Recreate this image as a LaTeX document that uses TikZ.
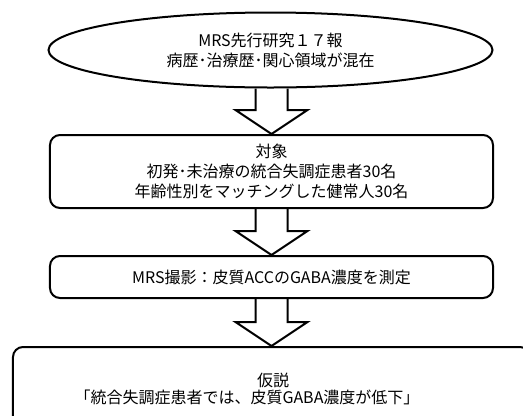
\documentclass[tikz,border=0pt]{standalone}
\usepackage{fontspec}
\setmainfont{Noto Sans CJK JP}
\usetikzlibrary{shapes.geometric,calc}
\newcommand\fatarrowdraw[2]{%
  \draw[fatarrow] let \p1=(#1.south), \p2=(#2.north) in
    (\x2-16bp,\y1) -- (\x2-16bp,\y2+24bp) -- (\x2-36bp,\y2+24bp) -- (\x2,\y2)
    -- (\x2+36bp,\y2+24bp) -- (\x2+16bp,\y2+24bp) -- (\x2+16bp,\y1);}
\begin{document}
\begin{tikzpicture}[x=1bp,y=-1bp,
  every node/.style={font=\fontsize{16bp}{20bp}\selectfont},
  boxstyle/.style={draw,line width=2bp,rounded corners=10bp,align=center,inner sep=0pt},
  ellstyle/.style={ellipse,draw,line width=2bp,align=center,inner sep=0pt},
  fatarrow/.style={draw,line width=2bp,line join=miter}]
\useasboundingbox[fill=white] (0,0) rectangle (523,415);
\clip (0,0) rectangle (523,415);
\node[ellstyle,minimum width=444bp,minimum height=75bp] (e) at (270.5,50)
  {MRS先行研究１７報\\病歴･治療歴･関心領域が混在};
\node[boxstyle,minimum width=443bp,minimum height=73bp] (b2) at (271.5,171.5)
  {対象\\初発･未治療の統合失調症患者30名\\年齢性別をマッチングした健常人30名};
\node[boxstyle,minimum width=443bp,minimum height=42bp] (b3) at (271.5,277)
  {MRS撮影：皮質ACCのGABA濃度を測定};
\node[boxstyle,minimum width=517bp,minimum height=93bp] (b4) at (271.5,393.5) {};
\node (t4a) at (273,380) {仮説};
\node (t4b) at (247,397) {「統合失調症患者では、皮質GABA濃度が低下」};
\fatarrowdraw{e}{b2}
\fatarrowdraw{b2}{b3}
\fatarrowdraw{b3}{b4}
\end{tikzpicture}
\end{document}
